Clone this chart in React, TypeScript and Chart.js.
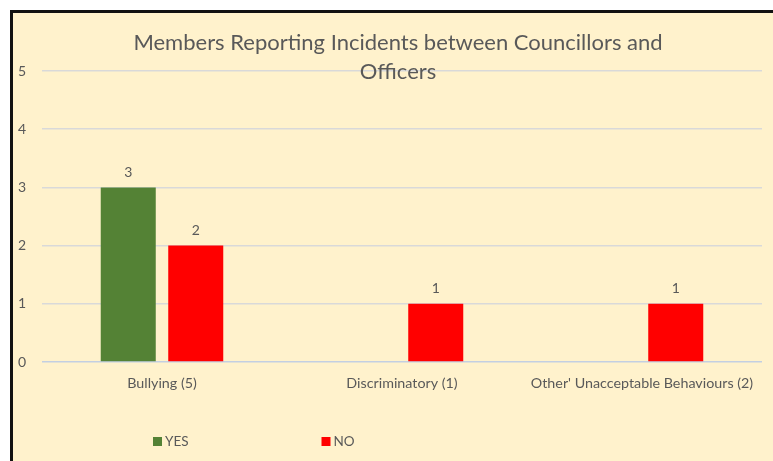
import React, { useEffect, useRef } from "react";
import { Chart, registerables } from "chart.js";

Chart.register(...registerables);

const TITLE_LINES = ["Members Reporting Incidents between Councillors and", "Officers"];
const CATEGORIES = ["Bullying (5)", "Discriminatory (1)", "Other' Unacceptable Behaviours (2)"];
const SERIES_NAMES = ["YES", "NO"];
const YES_VALUES: (number | null)[] = [3, null, null];
const NO_VALUES: (number | null)[] = [2, 1, 1];
const Y_MIN = 0;
const Y_MAX = 5;
const Y_STEP = 1;

const GREEN = "#548235";
const RED = "#FF0000";
const TEXT = "#595959";
const FONT = "Lato, 'Liberation Sans', sans-serif";

const titlePlugin = {
  id: "customTitle",
  afterDraw(chart: any) {
    const ctx = chart.ctx;
    ctx.save();
    ctx.fillStyle = TEXT;
    ctx.font = `22px ${FONT}`;
    ctx.textAlign = "center";
    ctx.textBaseline = "middle";
    const cx = 385;
    TITLE_LINES.forEach((line, i) => ctx.fillText(line, cx, 30 + i * 29));
    ctx.restore();
  },
};

const labelsPlugin = {
  id: "valueLabels",
  afterDatasetsDraw(chart: any) {
    const ctx = chart.ctx;
    ctx.save();
    ctx.fillStyle = TEXT;
    ctx.font = `14px ${FONT}`;
    ctx.textAlign = "center";
    ctx.textBaseline = "middle";
    chart.data.datasets.forEach((ds: any, di: number) => {
      const meta = chart.getDatasetMeta(di);
      meta.data.forEach((bar: any, i: number) => {
        const v = ds.data[i];
        if (v === null || v === undefined) return;
        ctx.fillText(String(v), bar.x, bar.y - 15);
      });
    });
    ctx.restore();
  },
};

const legendPlugin = {
  id: "customLegend",
  afterDraw(chart: any) {
    const ctx = chart.ctx;
    ctx.save();
    ctx.font = `13.5px ${FONT}`;
    ctx.textBaseline = "middle";
    ctx.textAlign = "left";
    const xs = [140, 308.5];
    chart.data.datasets.forEach((ds: any, i: number) => {
      const x = xs[i];
      ctx.fillStyle = ds.backgroundColor;
      ctx.fillRect(x, 424, 9, 9);
      ctx.fillStyle = TEXT;
      ctx.fillText(ds.label, x + 12, 429);
    });
    ctx.restore();
  },
};

export default function App() {
  const ref = useRef<HTMLCanvasElement>(null);
  useEffect(() => {
    if (!ref.current) return;
    const chart = new Chart(ref.current, {
      type: "bar",
      data: {
        labels: CATEGORIES,
        datasets: [
          { label: SERIES_NAMES[0], data: YES_VALUES, backgroundColor: GREEN, categoryPercentage: 0.5625, barPercentage: 0.815 },
          { label: SERIES_NAMES[1], data: NO_VALUES, backgroundColor: RED, categoryPercentage: 0.5625, barPercentage: 0.815 },
        ],
      },
      options: {
        animation: false,
        responsive: false,
        maintainAspectRatio: false,
        layout: { padding: { top: 58, right: 11, left: 0, bottom: 0 } },
        plugins: {
          legend: { display: false },
          title: { display: false },
          tooltip: { enabled: false },
        },
        scales: {
          x: {
            grid: { display: false, drawTicks: false },
            border: { display: false },
            ticks: { color: TEXT, font: { family: FONT, size: 14.3 }, padding: 13, maxRotation: 0, autoSkip: false },
            afterFit: (s: any) => { s.height = 99; },
          },
          y: {
            min: Y_MIN,
            max: Y_MAX,
            ticks: { stepSize: Y_STEP, color: TEXT, font: { family: FONT, size: 14 }, padding: 16 },
            grid: {
              drawTicks: false,
              lineWidth: 1.5,
              color: (c: any) => (c.tick && c.tick.value === 0 ? "#C3CFE2" : "#D9D9D9"),
            },
            border: { display: false },
            afterFit: (s: any) => { s.width = 29; },
          },
        },
      },
      plugins: [titlePlugin, labelsPlugin, legendPlugin],
    });
    return () => chart.destroy();
  }, []);
  return (
    <div
      style={{
        position: "fixed",
        left: 10,
        top: 10,
        right: 0,
        bottom: 0,
        borderTop: "3px solid #111",
        borderLeft: "3px solid #111",
        background: "#FFF2CC",
        overflow: "hidden",
      }}
    >
      <canvas ref={ref} width={760} height={448} style={{ display: "block" }} />
    </div>
  );
}
